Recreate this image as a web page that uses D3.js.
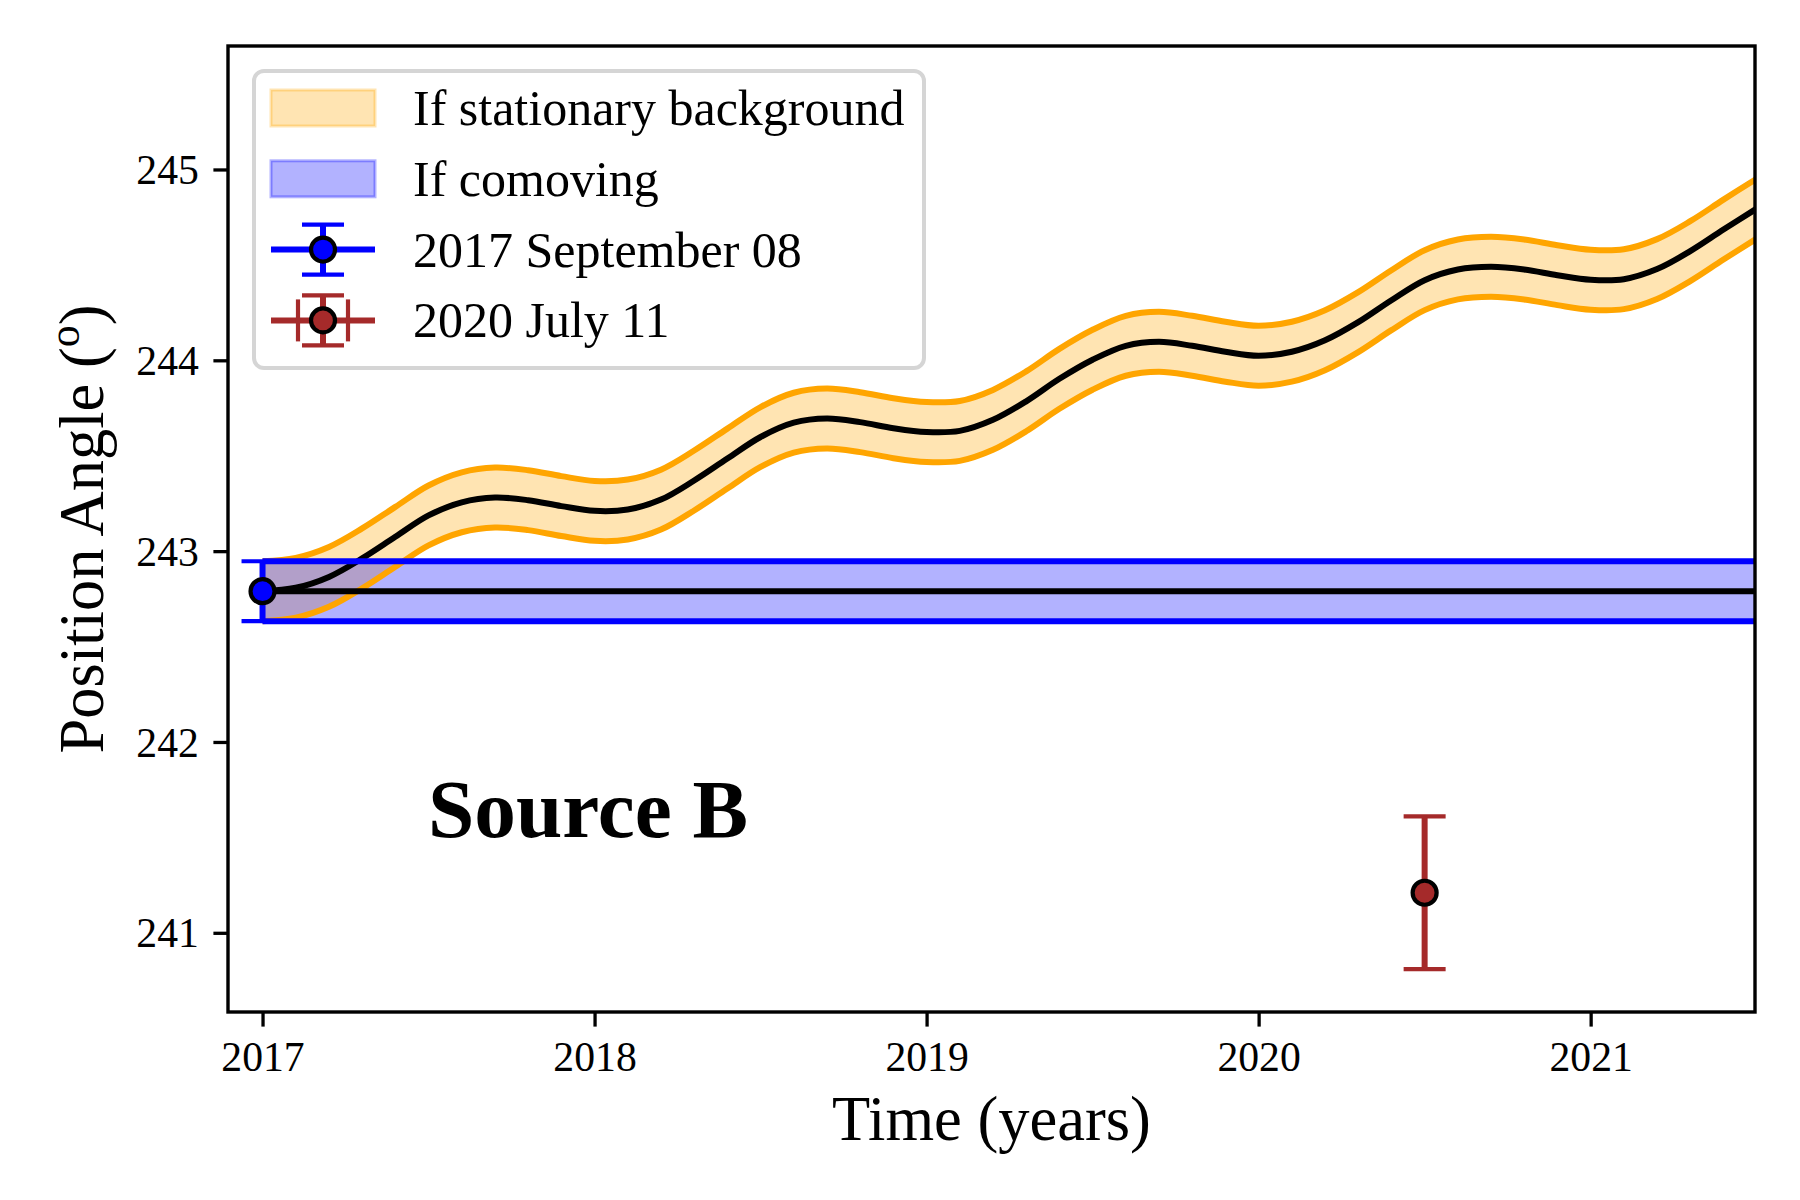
<!DOCTYPE html>
<html>
<head>
<meta charset="utf-8">
<script src="https://cdn.jsdelivr.net/npm/d3@7"></script>
<style>
  html, body { margin: 0; padding: 0; background: #ffffff; }
  svg { display: block; }
  text { font-family: "Liberation Serif", "Times New Roman", Times, serif; fill: #000; }
</style>
</head>
<body>
<svg id="chart" width="1800" height="1200"></svg>
<script>
// ---------------- DATA ----------------
// Stationary-background track (black curve)
const trackYears = [2017.00, 2017.10, 2017.20, 2017.30, 2017.40, 2017.50, 2017.60, 2017.70, 2017.80, 2017.90,
  2018.00, 2018.10, 2018.20, 2018.30, 2018.40, 2018.50, 2018.60, 2018.70, 2018.80, 2018.90,
  2019.00, 2019.10, 2019.20, 2019.30, 2019.40, 2019.50, 2019.60, 2019.70, 2019.80, 2019.90,
  2020.00, 2020.10, 2020.20, 2020.30, 2020.40, 2020.50, 2020.60, 2020.70, 2020.80, 2020.90,
  2021.00, 2021.10, 2021.20, 2021.30, 2021.40, 2021.50];
const trackPA = [242.790, 242.808, 242.865, 242.962, 243.075, 243.187, 243.256, 243.281, 243.267, 243.236,
  243.211, 243.218, 243.270, 243.370, 243.485, 243.598, 243.673, 243.695, 243.676, 243.644,
  243.624, 243.630, 243.688, 243.785, 243.903, 244.003, 244.076, 244.097, 244.076, 244.045,
  244.024, 244.045, 244.105, 244.200, 244.315, 244.420, 244.476, 244.490, 244.476, 244.446,
  244.422, 244.425, 244.478, 244.572, 244.685, 244.795];
const trackErr = 0.157;

// Comoving track (horizontal) — same start epoch as first measurement
const comovingYears = [2017.0, 2021.6];
const comovingPA = [242.79, 242.79];
const comovingErr = 0.157;

// Measurements
const obsLabels = ["2017 September 08", "2020 July 11"];
const obsYears = [2017.0, 2020.5];
const obsPA = [242.79, 241.21];
const obsErr = [0.157, 0.40];

// Legend & axes text
const legendLabels = ["If stationary background", "If comoving", "2017 September 08", "2020 July 11"];
const xTicks = [2017, 2018, 2019, 2020, 2021];
const yTicks = [241, 242, 243, 244, 245];
const xDomain = [2016.896, 2021.495];
const yDomain = [240.585, 245.647];
const annotation = "Source B";

// ---------------- LAYOUT ----------------
const W = 1800, H = 1200;
const L = 228, R = 1755, T = 46, B = 1012;
const svg = d3.select("#chart");
svg.append("rect").attr("width", W).attr("height", H).attr("fill", "#fff");

const x = d3.scaleLinear().domain(xDomain).range([L, R]);
const y = d3.scaleLinear().domain(yDomain).range([B, T]);

const defs = svg.append("defs");
defs.append("clipPath").attr("id", "plotclip")
  .append("rect").attr("x", L).attr("y", T).attr("width", R - L).attr("height", B - T);

const plot = svg.append("g").attr("clip-path", "url(#plotclip)");

const track = trackYears.map((t, i) => ({ t, v: trackPA[i] }));
const como = comovingYears.map((t, i) => ({ t, v: comovingPA[i] }));
const curve = d3.curveCatmullRom.alpha(0.5);

const ORANGE = "#ffa500", BLUE = "#0000ff", BROWN = "#a52a2a";
const LW = 6;

// orange band fill
plot.append("path").datum(track)
  .attr("d", d3.area().x(d => x(d.t)).y0(d => y(d.v - trackErr)).y1(d => y(d.v + trackErr)).curve(curve))
  .attr("fill", ORANGE).attr("fill-opacity", 0.3);
// blue band fill
plot.append("path").datum(como)
  .attr("d", d3.area().x(d => x(d.t)).y0(d => y(d.v - comovingErr)).y1(d => y(d.v + comovingErr)))
  .attr("fill", BLUE).attr("fill-opacity", 0.3);
// orange edges
[1, -1].forEach(s => {
  plot.append("path").datum(track)
    .attr("d", d3.line().x(d => x(d.t)).y(d => y(d.v + s * trackErr)).curve(curve))
    .attr("fill", "none").attr("stroke", ORANGE).attr("stroke-width", 6);
});
// black tracks
plot.append("path").datum(track)
  .attr("d", d3.line().x(d => x(d.t)).y(d => y(d.v)).curve(curve))
  .attr("fill", "none").attr("stroke", "#000").attr("stroke-width", LW);
plot.append("path").datum(como)
  .attr("d", d3.line().x(d => x(d.t)).y(d => y(d.v)))
  .attr("fill", "none").attr("stroke", "#000").attr("stroke-width", LW);
// blue edges
[1, -1].forEach(s => {
  plot.append("path").datum(como)
    .attr("d", d3.line().x(d => x(d.t)).y(d => y(d.v + s * comovingErr)))
    .attr("fill", "none").attr("stroke", BLUE).attr("stroke-width", LW);
});

// error bars + markers
const obsColors = [BLUE, BROWN];
const CAP = 21, MR = 12, MEW = 4.2;
obsYears.forEach((t, i) => {
  const g = svg.append("g");
  const cx = x(t), c = obsColors[i];
  g.append("line").attr("x1", cx).attr("x2", cx)
    .attr("y1", y(obsPA[i] - obsErr[i])).attr("y2", y(obsPA[i] + obsErr[i]))
    .attr("stroke", c).attr("stroke-width", LW);
  [1, -1].forEach(s => {
    g.append("line").attr("x1", cx - CAP).attr("x2", cx + CAP)
      .attr("y1", y(obsPA[i] + s * obsErr[i])).attr("y2", y(obsPA[i] + s * obsErr[i]))
      .attr("stroke", c).attr("stroke-width", MEW);
  });
  g.append("circle").attr("cx", cx).attr("cy", y(obsPA[i])).attr("r", MR)
    .attr("fill", c).attr("stroke", "#000").attr("stroke-width", MEW);
});

// ---------------- AXES ----------------
const xAxis = d3.axisBottom(x).tickValues(xTicks).tickFormat(d3.format("d")).tickSize(14.6).tickPadding(14.6);
const yAxis = d3.axisLeft(y).tickValues(yTicks).tickFormat(d3.format("d")).tickSize(14.6).tickPadding(14.6);

const gx = svg.append("g").attr("transform", `translate(0,${B})`).call(xAxis);
const gy = svg.append("g").attr("transform", `translate(${L},0)`).call(yAxis);
[gx, gy].forEach(g => {
  g.select(".domain").remove();
  g.selectAll(".tick line").attr("stroke", "#000").attr("stroke-width", 3.3);
  g.selectAll(".tick text").attr("font-size", 41.7)
    .attr("font-family", '"Liberation Serif", "Times New Roman", serif').attr("fill", "#000");
});
gx.selectAll(".tick text").attr("dy", "0.71em");
gy.selectAll(".tick text").attr("dy", "0.34em");

// frame
svg.append("rect").attr("x", L).attr("y", T).attr("width", R - L).attr("height", B - T)
  .attr("fill", "none").attr("stroke", "#000").attr("stroke-width", 3.4);

// axis labels
svg.append("text").attr("x", (L + R) / 2).attr("y", 1140).attr("text-anchor", "middle")
  .attr("font-size", 62.5).text("Time (years)");
const yl = svg.append("text").attr("transform", `translate(103,${(T + B) / 2}) rotate(-90)`)
  .attr("text-anchor", "middle").attr("font-size", 62.5);
yl.append("tspan").text("Position Angle (");
yl.append("tspan").attr("baseline-shift", "super").attr("font-size", 44).text("o");
yl.append("tspan").text(")");

// annotation
svg.append("text").attr("x", 428).attr("y", 837).attr("font-size", 83.3).attr("font-weight", "bold")
  .text(annotation);

// ---------------- LEGEND ----------------
const lg = svg.append("g");
lg.append("rect").attr("x", 254).attr("y", 71).attr("width", 670).attr("height", 297).attr("rx", 10)
  .attr("fill", "#fff").attr("fill-opacity", 0.8).attr("stroke", "#d5d5d5").attr("stroke-width", 4);
const rowY = i => 108 + i * 70.8;
const hx0 = 271, hx1 = 375, hcx = (hx0 + hx1) / 2;
// patches
[ORANGE, BLUE].forEach((c, i) => {
  lg.append("rect").attr("x", hx0).attr("y", rowY(i) - 18).attr("width", hx1 - hx0).attr("height", 36)
    .attr("fill", c).attr("fill-opacity", 0.3).attr("stroke", c).attr("stroke-opacity", 0.3).attr("stroke-width", 3);
});
// errorbar handles
obsColors.forEach((c, j) => {
  const cy = rowY(j + 2);
  const g = lg.append("g");
  g.append("line").attr("x1", hx0).attr("x2", hx1).attr("y1", cy).attr("y2", cy).attr("stroke", c).attr("stroke-width", LW);
  g.append("line").attr("x1", hcx).attr("x2", hcx).attr("y1", cy - 25).attr("y2", cy + 25).attr("stroke", c).attr("stroke-width", LW);
  [1, -1].forEach(s => {
    g.append("line").attr("x1", hcx - CAP).attr("x2", hcx + CAP).attr("y1", cy + s * 25).attr("y2", cy + s * 25)
      .attr("stroke", c).attr("stroke-width", MEW);
  });
  if (j === 1) {
    [1, -1].forEach(s => {
      g.append("line").attr("x1", hcx + s * 25).attr("x2", hcx + s * 25).attr("y1", cy - CAP).attr("y2", cy + CAP)
        .attr("stroke", c).attr("stroke-width", MEW);
    });
  }
  g.append("circle").attr("cx", hcx).attr("cy", cy).attr("r", MR).attr("fill", c).attr("stroke", "#000").attr("stroke-width", MEW);
});
legendLabels.forEach((lab, i) => {
  lg.append("text").attr("x", 413).attr("y", rowY(i) + 17).attr("font-size", 50).text(lab);
});
</script>
</body>
</html>
